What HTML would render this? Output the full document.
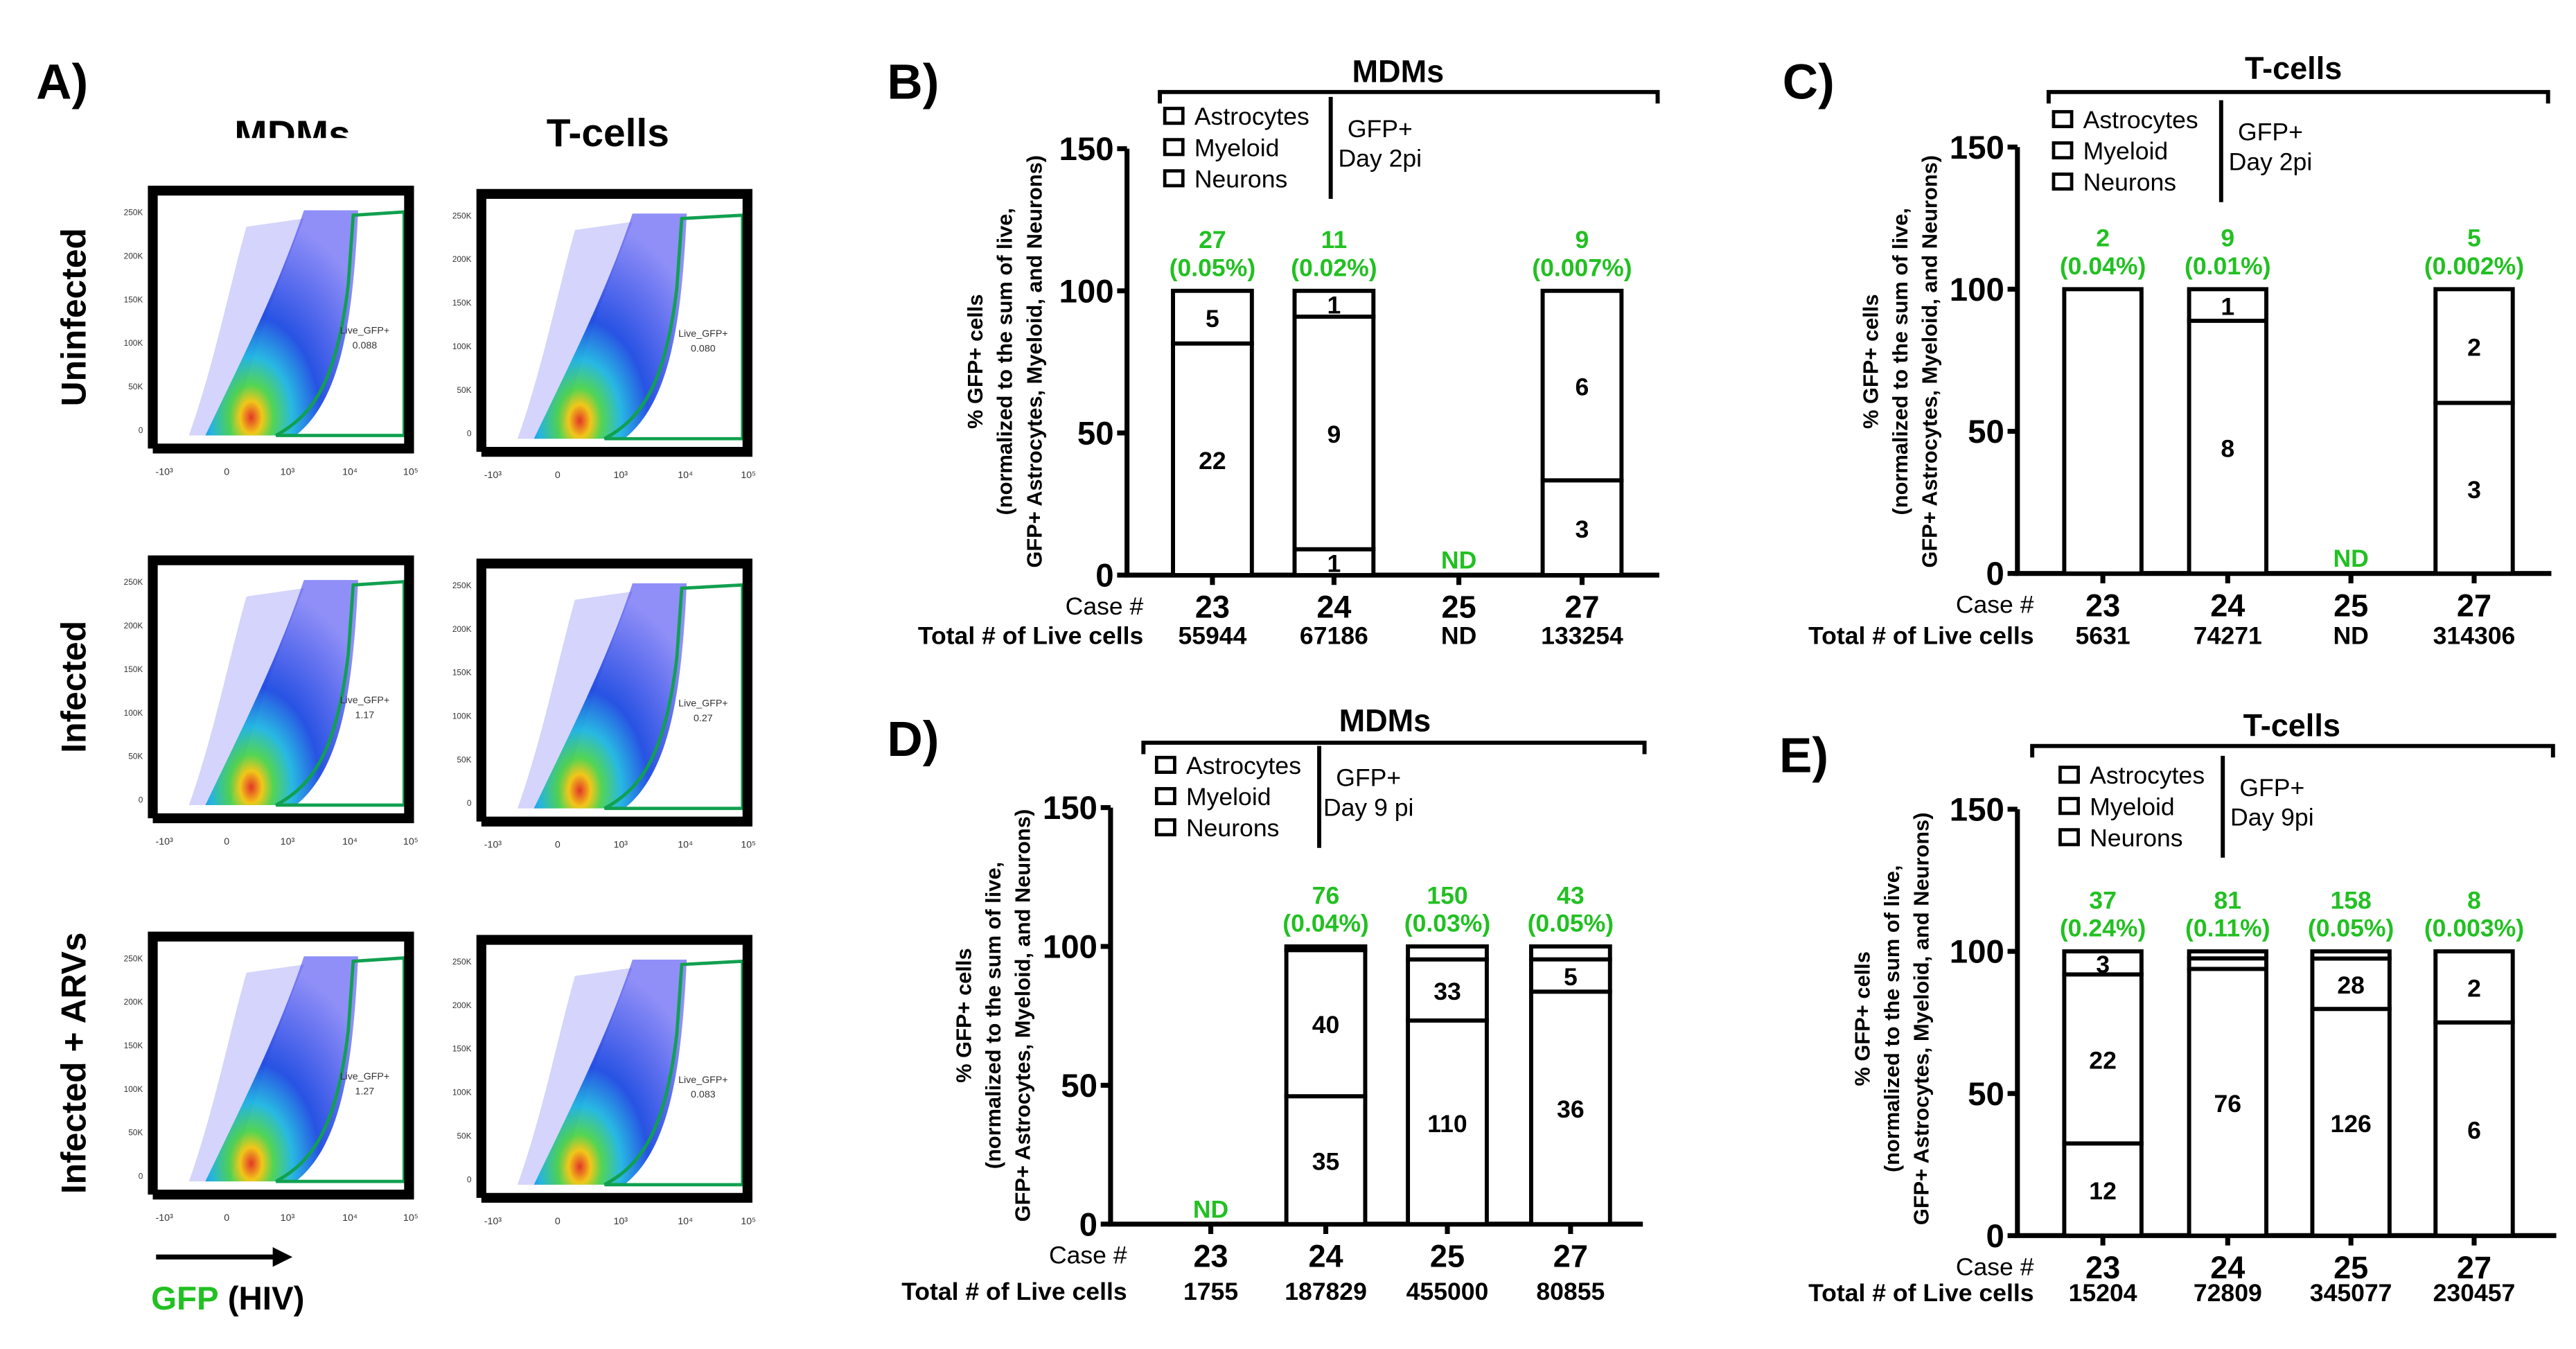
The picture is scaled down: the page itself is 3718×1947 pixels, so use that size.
<!DOCTYPE html>
<html><head><meta charset="utf-8"><style>
html,body{margin:0;padding:0;background:#fff;}
svg{display:block;font-family:"Liberation Sans",sans-serif;}
</style></head><body>
<svg id="fig" width="3718" height="1947" viewBox="0 0 1568 821" preserveAspectRatio="none" xmlns="http://www.w3.org/2000/svg">
<defs>
<radialGradient id="dens" cx="0.3" cy="0.92" r="0.9">
<stop offset="0" stop-color="#e02010"/><stop offset="0.08" stop-color="#f0c000"/><stop offset="0.16" stop-color="#40d040"/><stop offset="0.3" stop-color="#10b0e0"/><stop offset="0.5" stop-color="#1040e0"/><stop offset="1" stop-color="#3030f0" stop-opacity="0.6"/>
</radialGradient>
</defs>
<g id="panelA"></g>
<g id="bars"></g>
</svg>
<script>
const NS="http://www.w3.org/2000/svg";
// ---- Panel B data (MDMs day 2) ----
const casesB=["23","24","25","27"];
const bottomB=[22,1,0,3];
const midB=[5,9,0,6];
const topB=[0,1,0,0];
const totalGfpB=["27","11","ND","9"];
const pctB=["(0.05%)","(0.02%)","","(0.007%)"];
const liveB=["55944","67186","ND","133254"];
// ---- Panel C data (T-cells day 2) ----
const casesC=["23","24","25","27"];
const bottomC=[2,8,0,3];
const midC=[0,1,0,2];
const topC=[0,0,0,0];
const totalGfpC=["2","9","ND","5"];
const pctC=["(0.04%)","(0.01%)","","(0.002%)"];
const liveC=["5631","74271","ND","314306"];
// ---- Panel D data (MDMs day 9) ----
const casesD=["23","24","25","27"];
const bottomD=[0,35,110,36];
const midD=[0,40,33,5];
const topD=[0,1,7,2];
const totalGfpD=["ND","76","150","43"];
const pctD=["","(0.04%)","(0.03%)","(0.05%)"];
const liveD=["1755","187829","455000","80855"];
// ---- Panel E data (T-cells day 9) ----
const casesE=["23","24","25","27"];
const bottomE=[12,76,126,6];
const midE=[22,3,28,2];
const topE=[3,2,4,0];
const totalGfpE=["37","81","158","8"];
const pctE=["(0.24%)","(0.11%)","(0.05%)","(0.003%)"];
const liveE=["15204","72809","345077","230457"];
const yTicks=[0,50,100,150];

const bars=document.getElementById('bars');
function el(tag,attrs,parent,text){const e=document.createElementNS(NS,tag);for(const k in attrs)e.setAttribute(k,attrs[k]);if(text!==undefined)e.textContent=text;(parent||bars).appendChild(e);return e;}

function panel(cfg,cases,bottom,mid,top,totalGfp,pct,live){
  const g=el('g',{});
  
  
  const yS=v=>cfg.y0-(cfg.y0-cfg.y100)*v/100;
  const xS=i=>cfg.xc[i];
  const L=el('text',{x:cfg.lx,y:cfg.ly,'font-size':30,'font-weight':'bold'},g,cfg.id.toUpperCase()+')');
  
  const T=el('text',{x:cfg.tx,y:cfg.ty,'font-size':19,'font-weight':'bold','text-anchor':'middle'},g,cfg.title);
  
  const br=el('path',{d:`M${cfg.b0} ${cfg.by+7}V${cfg.by}H${cfg.b1}V${cfg.by+7}`,fill:'none',stroke:'#000','stroke-width':2.5},g);
  
  const leg=el('g',{},g);
  ["Astrocytes","Myeloid","Neurons"].forEach((n,i)=>{
    const yy=cfg.legy+i*cfg.legdy;
    const r=el('rect',{x:cfg.legx,y:yy-5,width:11,height:9,fill:'#fff',stroke:'#000','stroke-width':2},leg);
    
    const t=el('text',{x:cfg.legx+18,y:yy+5,'font-size':15},leg,n);
    
  });
  el('line',{x1:cfg.vl,x2:cfg.vl,y1:cfg.legy-12,y2:cfg.legy+2*cfg.legdy+12,stroke:'#000','stroke-width':2.5},leg);
  el('text',{x:cfg.vl+30,y:cfg.legy+cfg.legdy*0.55+2,'font-size':15,'text-anchor':'middle'},leg,'GFP+');
  el('text',{x:cfg.vl+30,y:cfg.legy+cfg.legdy*1.5+2,'font-size':15,'text-anchor':'middle'},leg,cfg.day);
  const yt=el('text',{transform:`translate(${cfg.ytx},${cfg.yty}) rotate(-90)`,'font-size':13,'font-weight':'bold','text-anchor':'middle'},g);
  
  ["% GFP+ cells","(normalized to the sum of live,","GFP+ Astrocytes,  Myeloid, and  Neurons)"].forEach((s,i)=>el('tspan',{x:0,y:i*18},yt,s));
  const ax=el('path',{d:`M${cfg.ax} ${yS(150)}V${cfg.y0}H${cfg.xend}`,fill:'none',stroke:'#000','stroke-width':3},g);
  
  yTicks.forEach(v=>{
    el('line',{x1:cfg.ax-6,x2:cfg.ax,y1:yS(v),y2:yS(v),stroke:'#000','stroke-width':3},g);
    const t=el('text',{x:cfg.ax-8,y:yS(v)+7,'font-size':20,'font-weight':'bold','text-anchor':'end'},g,String(v));
    
  });
  el('text',{x:cfg.ax+10,y:cfg.caseY,'font-size':15,'text-anchor':'end'},g,'Case #');
  el('text',{x:cfg.ax+10,y:cfg.liveY,'font-size':15,'font-weight':'bold','text-anchor':'end'},g,'Total # of Live cells');
  cases.forEach((c,i)=>{
    const x=xS(i);
    el('line',{x1:x,x2:x,y1:cfg.y0,y2:cfg.y0+6,stroke:'#000','stroke-width':3},g);
    const ct=el('text',{x:x,y:cfg.caseY+2,'font-size':19,'font-weight':'bold','text-anchor':'middle'},g,c);
    
    const lt=el('text',{x:x,y:cfg.liveY,'font-size':15,'font-weight':'bold','text-anchor':'middle'},g,live[i]);
    
    const tot=bottom[i]+mid[i]+top[i];
    if(tot===0){
      const nd=el('text',{x:x,y:cfg.y0-4,'font-size':15,'font-weight':'bold',fill:'#22c022','text-anchor':'middle'},g,'ND');
      
      return;
    }
    const gl=el('text',{x:x,y:yS(100)-26,'font-size':15,'font-weight':'bold',fill:'#22c022','text-anchor':'middle'},g,totalGfp[i]);
    
    const pl=el('text',{x:x,y:yS(100)-9,'font-size':15,'font-weight':'bold',fill:'#22c022','text-anchor':'middle'},g,pct[i]);
    
    let acc=0;
    [bottom[i],mid[i],top[i]].forEach((v,k)=>{
      if(v===0)return;
      const p0=acc/tot*100,p1=(acc+v)/tot*100;acc+=v;
      const r=el('rect',{x:x-cfg.bw/2,y:yS(p1),width:cfg.bw,height:yS(p0)-yS(p1),fill:'#fff',stroke:'#000','stroke-width':2.5},g);
      
      
      if(p1-p0>=5 && !(tot===2&&cfg.id==='c'&&i===0)){
        el('text',{x:x,y:(yS(p0)+yS(p1))/2+6,'font-size':15,'font-weight':'bold','text-anchor':'middle'},g,String(v));
      }
    });
  });
}
panel({id:'b',title:'MDMs',day:'Day 2pi',lx:540,ly:60,tx:851,ty:50,b0:706,b1:1009,by:56,legx:709,legy:71,legdy:19,vl:810,
  ytx:598,yty:220,ax:686,y0:350,y100:177,xend:1010,xc:[738,812,888,963],bw:48,caseY:374,liveY:392},
  casesB,bottomB,midB,topB,totalGfpB,pctB,liveB);
panel({id:'c',title:'T-cells',day:'Day 2pi',lx:1085,ly:60,tx:1396,ty:48,b0:1247,b1:1551,by:56,legx:1250,legy:73,legdy:19,vl:1352,
  ytx:1143,yty:220,ax:1228,y0:349,y100:176,xend:1553,xc:[1280,1356,1431,1506],bw:47,caseY:373,liveY:392},
  casesC,bottomC,midC,topC,totalGfpC,pctC,liveC);
panel({id:'d',title:'MDMs',day:'Day 9 pi',lx:540,ly:460,tx:843,ty:445,b0:696,b1:1001,by:452,legx:704,legy:466,legdy:19,vl:803,
  ytx:591,yty:618,ax:676,y0:745,y100:576,xend:1000,xc:[737,807,881,956],bw:48,caseY:769,liveY:791},
  casesD,bottomD,midD,topD,totalGfpD,pctD,liveD);
panel({id:'e',title:'T-cells',day:'Day 9pi',lx:1083,ly:470,tx:1395,ty:448,b0:1237,b1:1554,by:454,legx:1254,legy:472,legdy:19,vl:1353,
  ytx:1138,yty:620,ax:1228,y0:752,y100:579,xend:1556,xc:[1280,1356,1431,1506],bw:47,caseY:776,liveY:792},
  casesE,bottomE,midE,topE,totalGfpE,pctE,liveE);

// ---- Panel A flow plots ----
const A=document.getElementById('panelA');
function ea(tag,attrs,parent,text){const e=document.createElementNS(NS,tag);for(const k in attrs)e.setAttribute(k,attrs[k]);if(text!==undefined)e.textContent=text;(parent||A).appendChild(e);return e;}
ea('text',{x:22,y:60,'font-size':30,'font-weight':'bold'},A,'A)');
ea('text',{x:178,y:90,'font-size':24,'font-weight':'bold','text-anchor':'middle'},A,'MDMs');
ea('rect',{x:120,y:84,width:120,height:12,fill:'#fff'},A);
ea('text',{x:370,y:89,'font-size':24,'font-weight':'bold','text-anchor':'middle'},A,'T-cells');
const rowNames=["Uninfected","Infected","Infected + ARVs"];
const rowY=[113,338,567];
const gateVals=[["0.088","0.080"],["1.17","0.27"],["1.27","0.083"]];
const colX=[90,290];
rowNames.forEach((n,r)=>{
  const t=ea('text',{transform:`translate(52,${rowY[r]+80}) rotate(-90)`,'font-size':21,'font-weight':'bold','text-anchor':'middle'},A,n);
  
  colX.forEach((x0,c)=>{
    const y0=rowY[r]+(c?2:0),w=c?168:162,h=160;
    const g=ea('g',{},A);
    
    ea('path',{d:`M${x0+25} ${y0+h-8} C${x0+40} ${y0+110} ${x0+50} ${y0+60} ${x0+60} ${y0+25} L${x0+95} ${y0+20} C${x0+70} ${y0+80} ${x0+60} ${y0+120} ${x0+50} ${y0+h-8} Z`,fill:'#3a3af0',opacity:0.22},g);
    ea('path',{d:`M${x0+35} ${y0+h-8} C${x0+60} ${y0+100} ${x0+80} ${y0+60} ${x0+95} ${y0+15} L${x0+128} ${y0+15} C${x0+125} ${y0+80} ${x0+118} ${y0+130} ${x0+90} ${y0+h-8} Z`,fill:'url(#dens)',opacity:0.9},g);
    ea('path',{d:`M${x0+78} ${y0+h-8} C${x0+100} ${y0+140} ${x0+115} ${y0+120} ${x0+122} ${y0+60} L${x0+125} ${y0+18} L${w+x0-6} ${y0+16} L${w+x0-6} ${y0+h-8} Z`,fill:'none',stroke:'#10a050','stroke-width':2},g);
    ea('text',{x:x0+w-30,y:y0+h/2+10,'font-size':6,fill:'#333','text-anchor':'middle'},g,'Live_GFP+');
    ea('text',{x:x0+w-30,y:y0+h/2+19,'font-size':6,fill:'#333','text-anchor':'middle'},g,gateVals[r][c]);
    ea('path',{d:`M${x0+3} ${y0+h} V${y0+3} H${x0+w-3} V${y0+h} H${x0+3}`,fill:'none',stroke:'#000','stroke-width':6},g);
    ["250K","200K","150K","100K","50K","0"].forEach((s,k)=>{
      ea('text',{x:x0-3,y:y0+18+k*26.5,'font-size':5,fill:'#333','text-anchor':'end'},g,s);
    });
    ["-10³","0","10³","10⁴","10⁵"].forEach((s,k)=>{
      ea('text',{x:x0+10+[0,38,75,113,150][k]*(w/162),y:y0+h+16,'font-size':6,fill:'#333','text-anchor':'middle'},g,s);
    });
  });
});
ea('line',{x1:95,x2:168,y1:765,y2:765,stroke:'#000','stroke-width':3},A);
ea('path',{d:'M166 759 L178 765 L166 771 Z',fill:'#000'},A);
const gx=ea('text',{x:92,y:797,'font-size':20,'font-weight':'bold'},A);

ea('tspan',{fill:'#22c022'},gx,'GFP');ea('tspan',{},gx,' (HIV)');
</script>
</body></html>
